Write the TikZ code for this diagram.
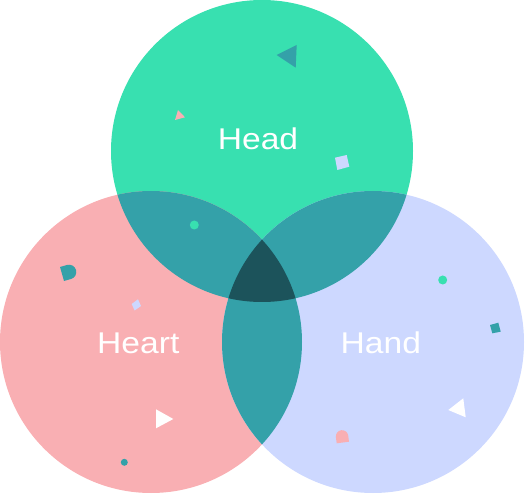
\documentclass[tikz,border=0pt]{standalone}
\usepackage{fontspec}
\newfontfamily\lblfont{Liberation Sans}[FakeStretch=1.12]
\usetikzlibrary{calc}
\definecolor{headc}{HTML}{38E0B0}
\definecolor{heartc}{HTML}{F9AFB3}
\definecolor{handc}{HTML}{CDD8FF}
\definecolor{pairc}{HTML}{34A1A9}
\definecolor{triplec}{HTML}{1C535B}
\tikzset{
  lbl/.style={text=white, font=\lblfont\fontsize{30}{36}\selectfont, anchor=base, inner sep=0pt},
}
\newcommand{\headcirc}{(262,151) circle[radius=151pt]}
\newcommand{\heartcirc}{(151,342) circle[radius=151pt]}
\newcommand{\handcirc}{(373,342) circle[radius=151pt]}
% half-stadium: colour, A, B, D (A sharp corner), radius, control offset
\newcommand{\halfstad}[6]{%
  \coordinate (hsA) at #2; \coordinate (hsB) at #3; \coordinate (hsD) at #4;
  \coordinate (hsC) at ($(hsB)+(hsD)-(hsA)$);
  \fill[#1] (hsA) -- ($(hsB)!#5!(hsA)$)
    .. controls ($(hsB)!#6!(hsA)$) and ($(hsB)!#6!(hsC)$) .. ($(hsB)!#5!(hsC)$)
    -- ($(hsC)!#5!(hsB)$)
    .. controls ($(hsC)!#6!(hsB)$) and ($(hsC)!#6!(hsD)$) .. ($(hsC)!#5!(hsD)$)
    -- (hsD) -- cycle;
}
\begin{document}
\begin{tikzpicture}[x=1pt,y=-1pt]
\useasboundingbox (0,0) rectangle (525,494);
% circles
\fill[headc] \headcirc;
\fill[heartc] \heartcirc;
\fill[handc] \handcirc;
% pair overlaps
\begin{scope}
  \clip \headcirc;
  \fill[pairc] \heartcirc;
  \fill[pairc] \handcirc;
\end{scope}
\begin{scope}
  \clip \heartcirc;
  \fill[pairc] \handcirc;
\end{scope}
% triple overlap
\begin{scope}
  \clip \headcirc;
  \clip \heartcirc;
  \fill[triplec] \handcirc;
\end{scope}
% decorations in Head
\fill[pairc] (276.7,55) -- (296.7,45) -- (295.7,67.7) -- cycle;
\fill[heartc] (175,120) -- (178,110) -- (185,117.3) -- cycle;
\fill[handc] (335,157.7) -- (346.7,155) -- (349.3,166.7) -- (337.3,170) -- cycle;
% dot in Head/Heart overlap
\fill[headc] (194.3,225) circle[radius=4.5pt];
% decorations in Heart
\halfstad{pairc}{(60,267)}{(74,263)}{(64,281)}{7.2pt}{3.2pt}
\fill[handc] (131.7,304) -- (138,299.3) -- (141,306) -- (134.6,310.5) -- cycle;
\fill[white] (156,409.3) -- (173.3,419) -- (156,428.3) -- cycle;
\fill[pairc] (124.3,462.3) circle[radius=3.5pt];
% decorations in Hand
\fill[headc] (442.7,280) circle[radius=4.5pt];
\fill[pairc] (490,325) -- (498.3,322.7) -- (500.7,331.7) -- (492.3,333.3) -- cycle;
\fill[white] (448.3,410) -- (463.3,398.3) -- (465.7,417.3) -- cycle;
\halfstad{heartc}{(349,441.7)}{(347.4,429.4)}{(336.7,443.3)}{6.2pt}{2.8pt}
% labels
\node[lbl] (headlbl) at (258,150) {Head};
\node[lbl] (heartlbl) at (138.3,353.3) {Heart};
\node[lbl] (handlbl) at (380.8,353.3) {Hand};
\end{tikzpicture}
\end{document}
